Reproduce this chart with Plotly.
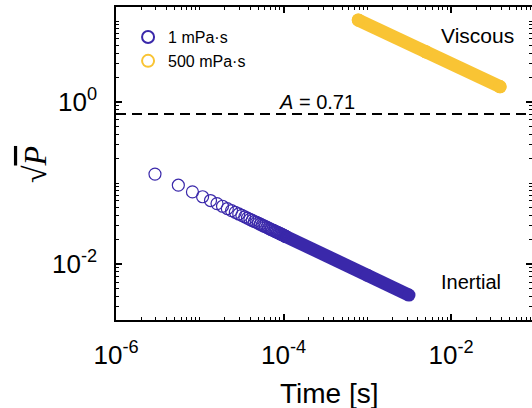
import math
import plotly.graph_objects as go

# ---------------- data ----------------
# 1 mPa·s : individually resolved circles (time in s, sqrt(P))
t_1mpa = [2.92e-6, 5.55e-6, 8.18e-6, 10.81e-6, 13.44e-6, 16.07e-6, 18.70e-6, 21.33e-6,
          23.96e-6, 26.59e-6, 29.22e-6, 31.85e-6, 34.48e-6, 37.11e-6, 39.74e-6, 42.37e-6,
          45.00e-6, 47.63e-6, 50.26e-6, 52.89e-6, 55.52e-6, 58.15e-6, 60.78e-6, 63.41e-6,
          66.04e-6, 68.67e-6, 71.30e-6, 73.93e-6, 76.56e-6, 79.19e-6, 81.82e-6, 84.45e-6,
          87.08e-6, 89.71e-6, 92.34e-6, 94.97e-6, 97.60e-6, 100.23e-6, 102.86e-6, 105.49e-6]
p_1mpa = [0.129, 0.0940, 0.0777, 0.0677, 0.0608, 0.0557, 0.0517, 0.0484,
          0.0457, 0.0435, 0.0415, 0.0398, 0.0382, 0.0369, 0.0356, 0.0345,
          0.0335, 0.0326, 0.0318, 0.0310, 0.0302, 0.0295, 0.0289, 0.0283,
          0.0278, 0.0272, 0.0267, 0.0263, 0.0258, 0.0254, 0.0250, 0.0246,
          0.0242, 0.0239, 0.0235, 0.0232, 0.0229, 0.0226, 0.0223, 0.0220]
# 1 mPa·s : dense (overlapping) part, readings along the band
t_1mpa_dense = [105.49e-6, 1.0e-3, 3.15e-3]
p_1mpa_dense = [0.0220, 0.00728, 0.00414]

# 500 mPa·s : dense band, readings along it
t_500mpa = [7.82e-4, 5.0e-3, 3.85e-2]
p_500mpa = [10.29, 4.17, 1.545]

A_value = 0.71

series_names = ["1 mPa·s", "500 mPa·s"]
label_inertial = "Inertial"
label_viscous = "Viscous"

x_tickvals = [1e-6, 1e-4, 1e-2]
x_ticktext = ["10<sup>-6</sup>", "10<sup>-4</sup>", "10<sup>-2</sup>"]
y_tickvals = [1e-2, 1e0]
y_ticktext = ["10<sup>-2</sup>", "10<sup>0</sup>"]

# ---------------- styling ----------------
BLUE = "#3a28aa"
YELLOW = "#f9c434"
FONT = "Liberation Sans, Arial, sans-serif"

X_RANGE = [-6, -1.033]
Y_RANGE = [-2.691, 1.173]

fig = go.Figure()

# dense bands (drawn through the readings)
fig.add_trace(go.Scatter(
    x=t_1mpa_dense, y=p_1mpa_dense, mode="lines+markers",
    line=dict(color=BLUE, width=13),
    marker=dict(symbol="circle", size=13, color=BLUE, line=dict(width=0)),
    showlegend=False, hoverinfo="skip"))
fig.add_trace(go.Scatter(
    x=t_500mpa, y=p_500mpa, mode="lines+markers",
    line=dict(color=YELLOW, width=13),
    marker=dict(symbol="circle", size=13, color=YELLOW, line=dict(width=0)),
    showlegend=False, hoverinfo="skip"))

# open circle series
fig.add_trace(go.Scatter(
    x=t_1mpa, y=p_1mpa, mode="markers", name=series_names[0],
    marker=dict(symbol="circle-open", size=12, color=BLUE, line=dict(width=1.2, color=BLUE)),
    legendgroup="a"))
fig.add_trace(go.Scatter(
    x=t_500mpa, y=p_500mpa, mode="markers", name=series_names[1],
    marker=dict(symbol="circle-open", size=12, color=YELLOW, line=dict(width=1.2, color=YELLOW)),
    legendgroup="b"))

# invisible trace to anchor the right-hand tick axis
fig.add_trace(go.Scatter(x=t_500mpa[:1], y=p_500mpa[:1], yaxis="y2", mode="markers",
                         marker=dict(opacity=0), showlegend=False, hoverinfo="skip"))

axis_common = dict(
    type="log", showgrid=False, zeroline=False,
    ticks="inside", ticklen=6, tickwidth=1.5, tickcolor="black",
    minor=dict(ticks="inside", ticklen=3, tickwidth=1, tickcolor="black", dtick="D1", showgrid=False),
    tickfont=dict(family=FONT, size=26, color="black"),
)

fig.update_layout(
    width=532, height=408,
    margin=dict(l=116, r=0, t=7, b=88),
    plot_bgcolor="white", paper_bgcolor="white",
    font=dict(family=FONT, color="black"),
    xaxis=dict(range=X_RANGE, showline=True, linecolor="black", linewidth=1.5,
               mirror="ticks", ticklabelstandoff=11, tickmode="array",
               tickvals=x_tickvals, ticktext=x_ticktext, **axis_common),
    yaxis=dict(range=Y_RANGE, showline=True, linecolor="black", linewidth=1.5,
               mirror=False, ticklabelstandoff=12, tickmode="array",
               tickvals=y_tickvals, ticktext=y_ticktext, **axis_common),
    yaxis2=dict(range=Y_RANGE, overlaying="y", side="right", anchor="x",
                showline=False, showticklabels=False, tickmode="array",
                tickvals=y_tickvals, **axis_common),
    legend=dict(x=0.029, y=0.958, xanchor="left", yanchor="top",
                font=dict(family=FONT, size=16, color="black"),
                bgcolor="rgba(0,0,0,0)", tracegroupgap=0, itemsizing="constant"),
    showlegend=True,
)

# dashed reference line at sqrt(P) = A, placed through the y-axis range
a_frac = (math.log10(A_value) - Y_RANGE[0]) / (Y_RANGE[1] - Y_RANGE[0])
fig.add_shape(type="line", xref="paper", x0=0, x1=1, yref="paper",
              y0=a_frac, y1=a_frac,
              line=dict(color="black", width=2, dash="10px,6px"))

fig.add_annotation(text=f"<i>A</i> = {A_value}", xref="paper", yref="paper",
                   x=0.482, y=0.6974, xanchor="center", yanchor="middle", showarrow=False,
                   font=dict(family=FONT, size=20, color="black"))
fig.add_annotation(text=label_viscous, xref="paper", yref="paper",
                   x=0.868, y=0.9105, xanchor="center", yanchor="middle", showarrow=False,
                   font=dict(family=FONT, size=21, color="black"))
fig.add_annotation(text=label_inertial, xref="paper", yref="paper",
                   x=0.853, y=0.1214, xanchor="center", yanchor="middle", showarrow=False,
                   font=dict(family=FONT, size=20, color="black"))
fig.add_annotation(text="Time [s]", xref="paper", yref="paper",
                   x=0.514, y=-0.2364, xanchor="center", yanchor="middle", showarrow=False,
                   font=dict(family=FONT, size=28, color="black"))
fig.add_annotation(text="√<span style='text-decoration:overline'><i>P</i></span>",
                   xref="paper", yref="paper", x=-0.1947, y=0.495, textangle=-90,
                   xanchor="center", yanchor="middle", showarrow=False,
                   font=dict(family="Liberation Serif, serif", size=32, color="black"))

fig.write_html("out.html")
